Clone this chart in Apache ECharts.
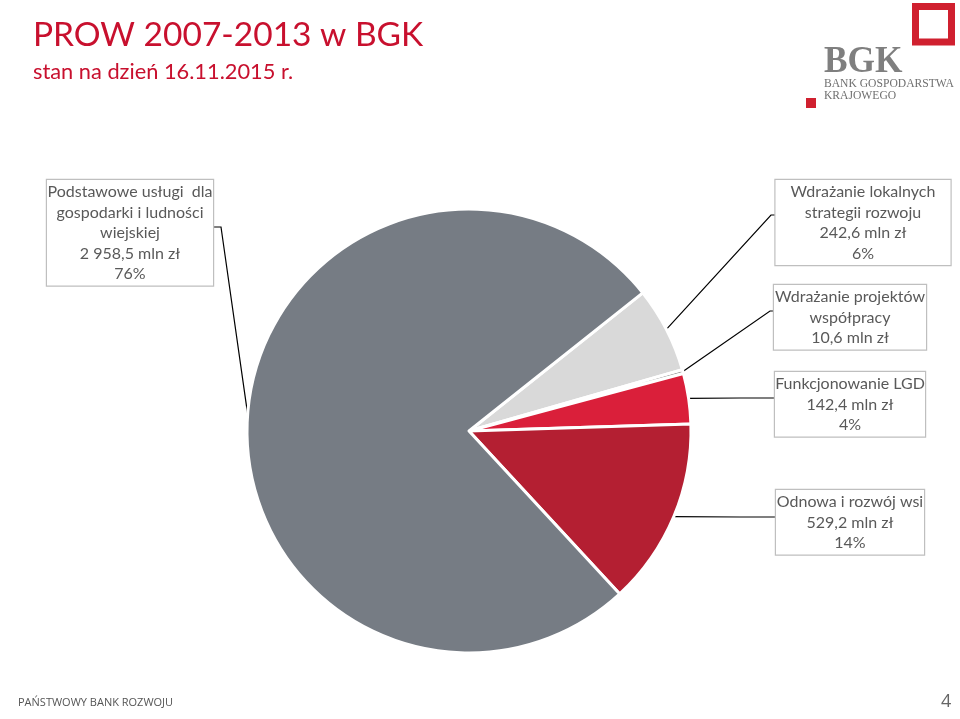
<!DOCTYPE html>
<html>
<head>
<meta charset="utf-8">
<script src="https://cdn.jsdelivr.net/npm/echarts@6/dist/echarts.min.js"></script>
<style>
html,body{margin:0;padding:0;background:#fff;}
#c{width:960px;height:719px;}
</style>
</head>
<body>
<div id="c"></div>
<script>
// ---- data ----
var categories = [
  'Wdrażanie lokalnych strategii rozwoju',
  'Wdrażanie projektów współpracy',
  'Funkcjonowanie LGD',
  'Odnowa i rozwój wsi',
  'Podstawowe usługi dla gospodarki i ludności wiejskiej'
];
var values = [242.6, 10.6, 142.4, 529.2, 2958.5];
var labelTexts = [
  'Wdrażanie lokalnych\nstrategii rozwoju\n242,6 mln zł\n6%',
  'Wdrażanie projektów\nwspółpracy\n10,6 mln zł',
  'Funkcjonowanie LGD\n142,4 mln zł\n4%',
  'Odnowa i rozwój wsi\n529,2 mln zł\n14%',
  'Podstawowe usługi  dla\ngospodarki i ludności\nwiejskiej\n2 958,5 mln zł\n76%'
];
var colors = ['#D9D9D9', '#7F7F7F', '#DA1F3A', '#B41F32', '#767C84'];

// label box geometry (centre x, top y, width) and elbow points
var boxes = [
  {cx: 863, top: 180, w: 175, elbow: [[771, 215], [776, 215]]},
  {cx: 850, top: 285, w: 152, elbow: [[770, 311], [774, 311]]},
  {cx: 850, top: 372, w: 150, elbow: [[740, 398], [775, 398]]},
  {cx: 850, top: 490, w: 148, elbow: [[740, 517], [776, 517]]},
  {cx: 130, top: 180, w: 166, elbow: [[221, 227], [213, 227]]}
];

var chart = echarts.init(document.getElementById('c'));
var data = values.map(function (v, i) {
  return {
    name: categories[i],
    value: v,
    itemStyle: {color: colors[i]},
    label: {
      formatter: labelTexts[i],
      width: boxes[i].w - 4
    }
  };
});

chart.setOption({
  animation: false,
  title: [
    {text: 'PROW 2007-2013 w BGK', left: 28, top: 13,
     textStyle: {color: '#C8102E', fontSize: 33.5, fontWeight: 'normal', fontFamily: 'Lato'}},
    {text: 'stan na dzień 16.11.2015 r.', left: 28, top: 56,
     textStyle: {color: '#C8102E', fontSize: 21.8, fontWeight: 'normal', fontFamily: 'Lato'}}
  ],
  graphic: [
    {type: 'rect', shape: {x: 915.5, y: 6.5, width: 36, height: 35.5},
     style: {fill: 'none', stroke: '#D0202F', lineWidth: 7}},
    {type: 'rect', shape: {x: 806, y: 98, width: 10, height: 10}, style: {fill: '#D0202F'}},
    {type: 'text', x: 824, y: 43, scaleX: 0.93,
     style: {text: 'BGK', fill: '#7F7F7F', font: 'bold 38px "Liberation Serif"'}},
    {type: 'text', left: 824, top: 78,
     style: {text: 'BANK GOSPODARSTWA', fill: '#6F6F6F', font: '11.6px "Liberation Serif"'}},
    {type: 'text', left: 824, top: 90,
     style: {text: 'KRAJOWEGO', fill: '#6F6F6F', font: '11.6px "Liberation Serif"'}},
    {type: 'text', left: 18, top: 697,
     style: {text: 'PAŃSTWOWY BANK ROZWOJU', fill: '#555', font: '11px "Open Sans"'}},
    {type: 'text', left: 941, top: 693,
     style: {text: '4', fill: '#666', font: '18px "Open Sans"'}}
  ],
  series: [{
    type: 'pie',
    center: [469, 431],
    radius: 222,
    startAngle: 38.5,
    clockwise: true,
    avoidLabelOverlap: false,
    itemStyle: {borderColor: '#fff', borderWidth: 3},
    label: {
      show: true,
      position: 'outside',
      color: '#595959',
      fontFamily: 'Lato',
      fontSize: 16,
      lineHeight: 20.5,
      align: 'center',
      overflow: 'none',
      padding: [2, 2, 1, 2],
      borderColor: '#BFBFBF',
      borderWidth: 1.2,
      backgroundColor: '#fff'
    },
    labelLine: {show: true, lineStyle: {color: '#000', width: 1.2}},
    labelLayout: function (p) {
      var b = boxes[p.dataIndex];
      var start = p.labelLinePoints ? p.labelLinePoints[0] : [0, 0];
      return {
        x: b.cx,
        y: b.top,
        align: 'center',
        verticalAlign: 'top',
        labelLinePoints: [start, b.elbow[0], b.elbow[1]]
      };
    },
    data: data
  }]
});
</script>
</body>
</html>
